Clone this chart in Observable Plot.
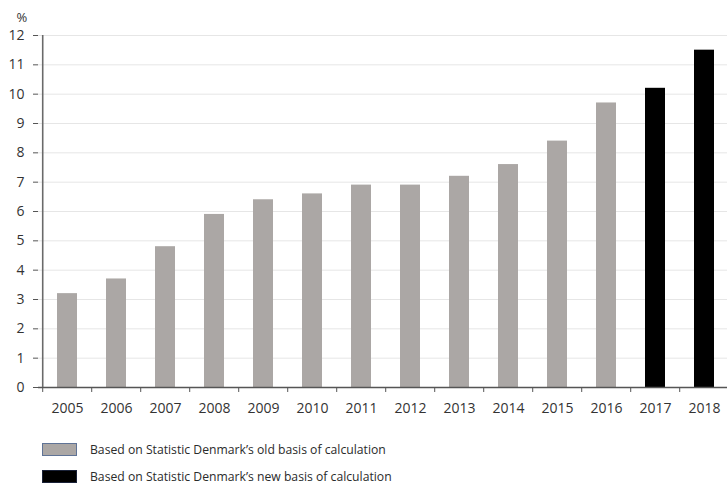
<!DOCTYPE html>
<html>
<head>
<meta charset="utf-8">
<script src="https://cdn.jsdelivr.net/npm/d3@7"></script>
<script src="https://cdn.jsdelivr.net/npm/@observablehq/plot@0.6"></script>
<style>
  html, body { margin: 0; padding: 0; background: #fff; overflow: hidden; }
  body { width: 727px; height: 484px; font-family: "Open Sans", "Noto Sans", sans-serif; }
  #chart svg { display: block; overflow: hidden; }
  .legend { position: absolute; left: 42px; font-size: 12.2px; color: #2b2b2b; }
  .row { display: flex; align-items: center; height: 14px; }
  .sw { width: 35px; height: 13px; margin-right: 13px; box-sizing: border-box; }
</style>
</head>
<body>
<div id="chart"></div>
<div class="legend" style="top:442px">
  <div class="row"><div class="sw" style="background:#aba7a5;border:1.5px solid #5f7396"></div>Based on Statistic Denmark’s old basis of calculation</div>
</div>
<div class="legend" style="top:469px">
  <div class="row"><div class="sw" style="background:#000;border:1px solid #1a2238"></div>Based on Statistic Denmark’s new basis of calculation</div>
</div>
<script>
// Share of the total, per year (%)
const years = ["2005","2006","2007","2008","2009","2010","2011","2012","2013","2014","2015","2016","2017","2018"];
const values = [3.2, 3.7, 4.8, 5.9, 6.4, 6.6, 6.9, 6.9, 7.2, 7.6, 8.4, 9.7, 10.2, 11.5];
const basis = ["old","old","old","old","old","old","old","old","old","old","old","old","new","new"];
const yTicks = [0,1,2,3,4,5,6,7,8,9,10,11,12];

const data = years.map((year, i) => ({year, value: values[i], basis: basis[i]}));

const left = 38, right = 732;
const step = (right - left) / years.length;

const chart = Plot.plot({
  width: 727,
  height: 425,
  marginTop: 35,
  marginBottom: 38,
  marginLeft: left,
  marginRight: 0,
  style: {fontFamily: "'Open Sans', 'Noto Sans', sans-serif", fontSize: "13px", color: "#333"},
  x: {domain: years, range: [left, right], paddingInner: 0.6, paddingOuter: 0.3, label: null},
  y: {domain: [0, 12], label: null},
  color: {domain: ["old", "new"], range: ["#aba7a5", "#000000"]},
  marks: [
    Plot.gridY(yTicks, {stroke: "#e6e6e6", strokeOpacity: 1}),
    Plot.barY(data, {x: "year", y: "value", fill: "basis"}),
    Plot.axisY(yTicks, {tickSize: 5, tickPadding: 9, stroke: "#555", fill: "#333", fontSize: 14}),
    Plot.axisX(years, {tickSize: 0, tickPadding: 16, fill: "#333", fontSize: 14}),
    // tick marks at the boundaries between years
    Plot.ruleX(years, {x: d => d, y1: 0, y2: -0.17, dx: -step / 2, stroke: "#555", clip: false}),
    Plot.ruleY([0], {stroke: "#555", strokeWidth: 1.5}),
    Plot.ruleX([0], {x: () => years[0], dx: -step / 2, y1: 0, y2: 12, stroke: "#6a6a6a", strokeWidth: 1.6}),
    Plot.text(["%"], {frameAnchor: "top-left", dx: -22, dy: -23, fontSize: 13, fill: "#333"})
  ]
});
document.getElementById("chart").append(chart);
</script>
</body>
</html>
